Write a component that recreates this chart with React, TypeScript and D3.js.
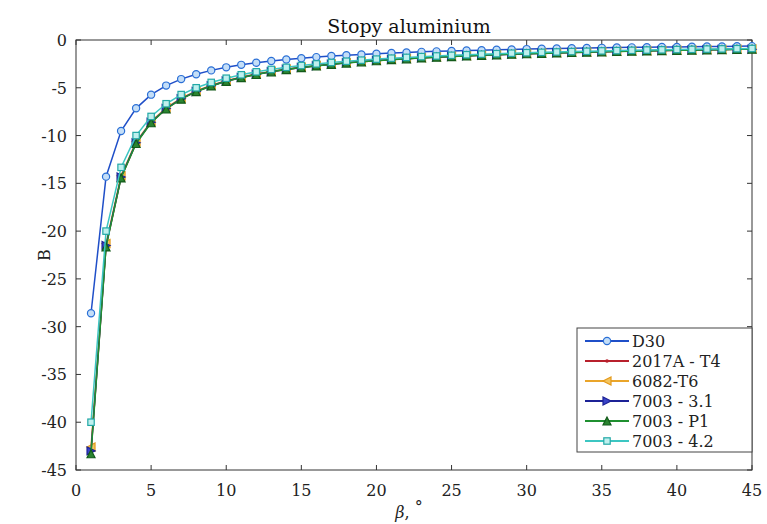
import React from "react";
import * as d3 from "d3";

// kąt beta [deg]
const beta = [
  1, 2, 3, 4, 5, 6, 7, 8, 9, 10, 11, 12, 13, 14, 15, 16, 17, 18, 19, 20, 21, 22, 23,
  24, 25, 26, 27, 28, 29, 30, 31, 32, 33, 34, 35, 36, 37, 38, 39, 40, 41, 42, 43, 44, 45,
];

const d30 = [
  -28.6, -14.3, -9.53, -7.15, -5.72, -4.77, -4.09, -3.58, -3.18, -2.86, -2.6, -2.38, -2.2,
  -2.04, -1.91, -1.79, -1.68, -1.59, -1.51, -1.43, -1.36, -1.3, -1.24, -1.19, -1.14, -1.1,
  -1.06, -1.02, -0.99, -0.95, -0.92, -0.89, -0.87, -0.84, -0.82, -0.79, -0.77, -0.75, -0.73,
  -0.72, -0.7, -0.68, -0.67, -0.65, -0.64,
];
const al2017 = [
  -43.1, -21.6, -14.4, -10.8, -8.62, -7.18, -6.16, -5.39, -4.79, -4.31, -3.92, -3.59, -3.32,
  -3.08, -2.87, -2.69, -2.54, -2.39, -2.27, -2.16, -2.05, -1.96, -1.87, -1.8, -1.72, -1.66,
  -1.6, -1.54, -1.49, -1.44, -1.39, -1.35, -1.31, -1.27, -1.23, -1.2, -1.16, -1.13, -1.11,
  -1.08, -1.05, -1.03, -1.0, -0.98, -0.96,
];
const al6082 = [
  -42.6, -21.3, -14.2, -10.65, -8.52, -7.1, -6.09, -5.33, -4.73, -4.26, -3.87, -3.55, -3.28,
  -3.04, -2.84, -2.66, -2.51, -2.37, -2.24, -2.13, -2.03, -1.94, -1.85, -1.78, -1.7, -1.64,
  -1.58, -1.52, -1.47, -1.42, -1.37, -1.33, -1.29, -1.25, -1.22, -1.18, -1.15, -1.12, -1.09,
  -1.07, -1.04, -1.01, -0.99, -0.97, -0.95,
];
const al7003_31 = [
  -43.0, -21.5, -14.33, -10.75, -8.6, -7.17, -6.14, -5.38, -4.78, -4.3, -3.91, -3.58, -3.31,
  -3.07, -2.87, -2.69, -2.53, -2.39, -2.26, -2.15, -2.05, -1.95, -1.87, -1.79, -1.72, -1.65,
  -1.59, -1.54, -1.48, -1.43, -1.39, -1.34, -1.3, -1.26, -1.23, -1.19, -1.16, -1.13, -1.1,
  -1.08, -1.05, -1.02, -1.0, -0.98, -0.96,
];
const al7003_p1 = [
  -43.3, -21.65, -14.43, -10.83, -8.66, -7.22, -6.19, -5.41, -4.81, -4.33, -3.94, -3.61,
  -3.33, -3.09, -2.89, -2.71, -2.55, -2.41, -2.28, -2.17, -2.06, -1.97, -1.88, -1.8, -1.73,
  -1.67, -1.6, -1.55, -1.49, -1.44, -1.4, -1.35, -1.31, -1.27, -1.24, -1.2, -1.17, -1.14,
  -1.11, -1.08, -1.06, -1.03, -1.01, -0.98, -0.96,
];
const al7003_42 = [
  -40.0, -20.0, -13.33, -10.0, -8.0, -6.67, -5.71, -5.0, -4.44, -4.0, -3.64, -3.33, -3.08,
  -2.86, -2.67, -2.5, -2.35, -2.22, -2.11, -2.0, -1.9, -1.82, -1.74, -1.67, -1.6, -1.54,
  -1.48, -1.43, -1.38, -1.33, -1.29, -1.25, -1.21, -1.18, -1.14, -1.11, -1.08, -1.05, -1.03,
  -1.0, -0.98, -0.95, -0.93, -0.91, -0.89,
];

const names = ["D30", "2017A - T4", "6082-T6", "7003 - 3.1", "7003 - P1", "7003 - 4.2"];
const values = [d30, al2017, al6082, al7003_31, al7003_p1, al7003_42];
const xTicks = [0, 5, 10, 15, 20, 25, 30, 35, 40, 45];
const yTicks = [0, -5, -10, -15, -20, -25, -30, -35, -40, -45];

const styles = [
  { line: "#1f4fc8", stroke: "#2a6fd6", fill: "#c4def7", marker: "circle" },
  { line: "#b8202c", stroke: "#b8202c", fill: "#b8202c", marker: "point" },
  { line: "#eaa52a", stroke: "#e49a1c", fill: "#f3c560", marker: "left" },
  { line: "#1c2296", stroke: "#1c2296", fill: "#3a44c8", marker: "right" },
  { line: "#1f9030", stroke: "#135a1a", fill: "#2a8430", marker: "up" },
  { line: "#3cc6c2", stroke: "#22a8a6", fill: "#bff0ee", marker: "square" },
];

const W = 767;
const H = 524;
const m = { left: 76, right: 15, top: 40, bottom: 54 };
const font = "'DejaVu Serif', 'Liberation Serif', serif";

function Marker({ kind, x, y, st }: { kind: string; x: number; y: number; st: any }) {
  const common = { stroke: st.stroke, fill: st.fill, strokeWidth: 1.2 };
  if (kind === "circle") return <circle cx={x} cy={y} r={3.6} {...common} />;
  if (kind === "point") return <circle cx={x} cy={y} r={1.8} fill={st.stroke} />;
  if (kind === "square") return <rect x={x - 3.2} y={y - 3.2} width={6.4} height={6.4} {...common} />;
  const s = 4;
  let pts = "";
  if (kind === "left") pts = `${x - s},${y} ${x + s},${y - s} ${x + s},${y + s}`;
  if (kind === "right") pts = `${x + s},${y} ${x - s},${y - s} ${x - s},${y + s}`;
  if (kind === "up") pts = `${x},${y - s} ${x - s},${y + s} ${x + s},${y + s}`;
  return <polygon points={pts} {...common} />;
}

export default function App() {
  const x = d3.scaleLinear().domain([0, 45]).range([m.left, W - m.right]);
  const y = d3.scaleLinear().domain([-45, 0]).range([H - m.bottom, m.top]);
  const line = d3
    .line<number>()
    .x((_, i) => x(beta[i]))
    .y((d) => y(d));

  const x0 = x(0);
  const x1 = x(45);
  const y0 = y(-45);
  const y1 = y(0);

  const lg = { x: 577, y: 328, w: 175, h: 124 };

  return (
    <svg width={W} height={H} style={{ position: "absolute", left: 0, top: 0, background: "#fff" }}>
      <text x={409} y={33} textAnchor="middle" fontFamily={font} fontSize={19} fill="#111">
        Stopy aluminium
      </text>

      {/* osie i ramka */}
      <rect x={x0} y={y1} width={x1 - x0} height={y0 - y1} fill="none" stroke="#333" strokeWidth={1} />
      {xTicks.map((t) => (
        <g key={"xt" + t}>
          <line x1={x(t)} x2={x(t)} y1={y0} y2={y0 - 5} stroke="#333" />
          <line x1={x(t)} x2={x(t)} y1={y1} y2={y1 + 5} stroke="#333" />
          <text x={x(t)} y={y0 + 26} textAnchor="middle" fontFamily={font} fontSize={16} fill="#222">
            {t}
          </text>
        </g>
      ))}
      {yTicks.map((t) => (
        <g key={"yt" + t}>
          <line x1={x0} x2={x0 + 5} y1={y(t)} y2={y(t)} stroke="#333" />
          <line x1={x1} x2={x1 - 5} y1={y(t)} y2={y(t)} stroke="#333" />
          <text x={x0 - 9} y={y(t) + 6} textAnchor="end" fontFamily={font} fontSize={16} fill="#222">
            {t}
          </text>
        </g>
      ))}
      <text x={409} y={H - 6} textAnchor="middle" fontFamily={font} fontSize={16} fill="#222">
        <tspan fontStyle="italic">β</tspan>
        <tspan>, </tspan>
        <tspan dy={-6}>°</tspan>
      </text>
      <text
        transform={`translate(${50},${(y0 + y1) / 2}) rotate(-90)`}
        textAnchor="middle"
        fontFamily={font}
        fontSize={16}
        fill="#222"
      >
        B
      </text>

      {/* serie */}
      {values.map((vals, si) => (
        <g key={names[si]}>
          <path d={line(vals) || ""} fill="none" stroke={styles[si].line} strokeWidth={1.5} />
          {vals.map((v, i) => (
            <Marker key={i} kind={styles[si].marker} x={x(beta[i])} y={y(v)} st={styles[si]} />
          ))}
        </g>
      ))}

      {/* legenda */}
      <rect x={lg.x} y={lg.y} width={lg.w} height={lg.h} fill="#fff" stroke="#444" strokeWidth={1} />
      {names.map((n, i) => {
        const cy = lg.y + 13 + i * 20;
        return (
          <g key={"lg" + n}>
            <line x1={lg.x + 8} x2={lg.x + 52} y1={cy} y2={cy} stroke={styles[i].line} strokeWidth={1.8} />
            <Marker kind={styles[i].marker} x={lg.x + 30} y={cy} st={styles[i]} />
            <text x={lg.x + 55} y={cy + 6} fontFamily={font} fontSize={16} fill="#222">
              {n}
            </text>
          </g>
        );
      })}
    </svg>
  );
}
